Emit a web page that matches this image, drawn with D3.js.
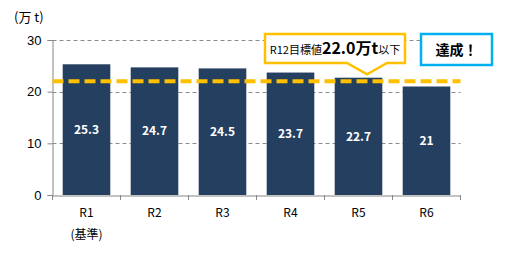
<!DOCTYPE html>
<html lang="ja">
<head>
<meta charset="UTF-8">
<title>排出量推移</title>
<script src="https://d3js.org/d3.v7.min.js"></script>
<style>
  body { margin: 0; background: #fff; }
  svg { font-family: "Noto Sans CJK JP", "Noto Sans", sans-serif; }
</style>
</head>
<body>
<div id="chart"></div>
<script>
const categories = ["R1", "R2", "R3", "R4", "R5", "R6"];
const subLabels = ["(基準)", "", "", "", "", ""];
const values = [25.3, 24.7, 24.5, 23.7, 22.7, 21];
const yTicks = [0, 10, 20, 30];
const target = 22;

const width = 512, height = 254;
const margin = { left: 52.5, right: 51.5, top: 40, bottom: 59 };

const svg = d3.select("#chart").append("svg")
  .attr("width", width)
  .attr("height", height);

const x = d3.scaleBand()
  .domain(categories)
  .range([margin.left, width - margin.right])
  .paddingInner(0.3)
  .paddingOuter(0.15);

const y = d3.scaleLinear()
  .domain([0, 30])
  .range([height - margin.bottom, margin.top]);

// gridlines
svg.append("g")
  .selectAll("line")
  .data(yTicks.filter(d => d > 0))
  .join("line")
  .attr("x1", margin.left)
  .attr("x2", width - margin.right)
  .attr("y1", d => Math.round(y(d)) + 0.5)
  .attr("y2", d => Math.round(y(d)) + 0.5)
  .attr("stroke", "#8c8c8c")
  .attr("stroke-dasharray", "4,3");

// bars
svg.append("g")
  .selectAll("rect")
  .data(values)
  .join("rect")
  .attr("x", (d, i) => x(categories[i]))
  .attr("y", d => y(d))
  .attr("width", x.bandwidth())
  .attr("height", d => y(0) - y(d))
  .attr("fill", "#243f60");

// value labels
svg.append("g")
  .selectAll("text")
  .data(values)
  .join("text")
  .attr("x", (d, i) => x(categories[i]) + x.bandwidth() / 2)
  .attr("y", d => (y(d) + y(0)) / 2)
  .attr("dy", "0.35em")
  .attr("text-anchor", "middle")
  .attr("fill", "#fff")
  .attr("font-weight", "bold")
  .attr("font-size", 12)
  .text(d => d);

// y axis
const yAxis = svg.append("g")
  .attr("transform", `translate(${margin.left},0)`)
  .call(d3.axisLeft(y).tickValues(yTicks).tickSize(5).tickPadding(6));
yAxis.select(".domain").attr("stroke", "#868686");
yAxis.selectAll(".tick line").attr("stroke", "#868686");
yAxis.selectAll(".tick text").attr("font-size", 13).attr("fill", "#000")
  .style("font-family", "Liberation Sans, Arial, sans-serif");

// x axis
const xAxis = svg.append("g")
  .attr("transform", `translate(0,${y(0) + 0.5})`)
  .call(d3.axisBottom(x).tickSize(0).tickFormat(""));
xAxis.select(".domain").attr("stroke", "#868686");

// category boundary ticks
const bounds = categories.map(c => x(c) - x.step() * x.paddingInner() / 2);
bounds.push(width - margin.right);
bounds[0] = margin.left;
svg.append("g")
  .selectAll("line")
  .data(bounds)
  .join("line")
  .attr("x1", d => d)
  .attr("x2", d => d)
  .attr("y1", y(0))
  .attr("y2", y(0) + 5)
  .attr("stroke", "#868686");

// category labels
svg.append("g")
  .selectAll("text")
  .data(categories)
  .join("text")
  .attr("x", d => x(d) + x.bandwidth() / 2)
  .attr("y", 217)
  .attr("text-anchor", "middle")
  .attr("font-size", 12)
  .text(d => d);

svg.append("g")
  .selectAll("text")
  .data(subLabels)
  .join("text")
  .attr("x", (d, i) => x(categories[i]) + x.bandwidth() / 2)
  .attr("y", 239)
  .attr("text-anchor", "middle")
  .attr("font-size", 12)
  .text(d => d);

// unit label
svg.append("text")
  .attr("x", 14)
  .attr("y", 22)
  .attr("font-size", 13)
  .text("(万 t)");

// target line
svg.append("line")
  .attr("x1", margin.left)
  .attr("x2", width - margin.right)
  .attr("y1", y(target))
  .attr("y2", y(target))
  .attr("stroke", "#ffc000")
  .attr("stroke-width", 4)
  .attr("stroke-dasharray", "11,5");

// callout
const cx0 = 265, cx1 = 405, cy0 = 34, cy1 = 63, tipX = 367;
svg.append("path")
  .attr("d", `M${cx0},${cy0}H${cx1}V${cy1}H${tipX + 20}L${tipX},${y(target) - 7}L${tipX - 20},${cy1}H${cx0}Z`)
  .attr("fill", "#fff")
  .attr("stroke", "#ffc000")
  .attr("stroke-width", 2.5);

const callout = svg.append("text")
  .attr("x", (cx0 + cx1) / 2)
  .attr("y", 54)
  .attr("text-anchor", "middle");
callout.append("tspan").attr("font-size", 11).text("R12目標値");
callout.append("tspan").attr("font-size", 16).attr("font-weight", "bold").text("22.0万t");
callout.append("tspan").attr("font-size", 11).text("以下");

// achieved box
svg.append("rect")
  .attr("x", 421)
  .attr("y", 34)
  .attr("width", 71)
  .attr("height", 31)
  .attr("fill", "#fff")
  .attr("stroke", "#00b0f0")
  .attr("stroke-width", 2.5);
svg.append("text")
  .attr("x", 456.5)
  .attr("y", 55)
  .attr("text-anchor", "middle")
  .attr("font-size", 14)
  .attr("font-weight", "bold")
  .text("達成！");
</script>
</body>
</html>
